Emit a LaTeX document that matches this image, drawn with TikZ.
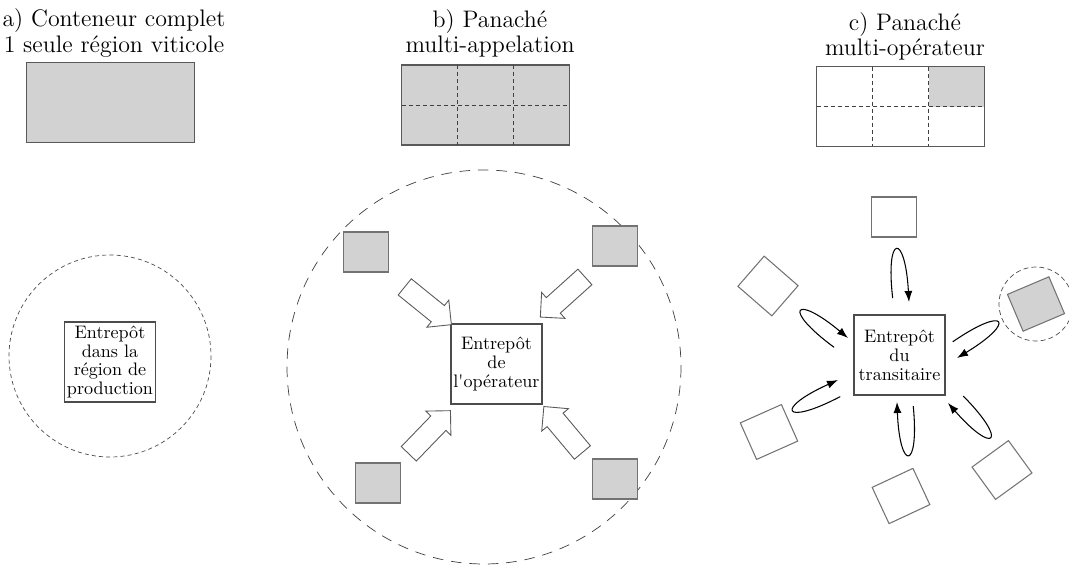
\documentclass[tikz,border=0pt]{standalone}
\usepackage{xcolor}
\usepackage{tikz}
\usetikzlibrary{shapes,arrows.meta,positioning,calc,backgrounds}

\begin{document}
\begin{tikzpicture}[x=0.02cm, y=-0.02cm,
  titre/.style={align=center, inner sep=0pt, font=\fontsize{13.6}{14.3}\selectfont},
  conteneur/.style={draw=black!65, line width=0.6pt, outer sep=0pt, minimum width=3.36cm, minimum height=1.6cm},
  grille/.style={draw=black!75, line width=0.5pt, dash pattern=on 2.3pt off 1.7pt},
  entrepot/.style={draw=black!70, line width=0.6pt, fill=white, align=center, minimum width=1.82cm, minimum height=1.6cm, inner sep=1pt, font=\fontsize{10.3}{10.8}\selectfont},
  cuve/.style={draw=black!55, line width=0.6pt, fill=gray!35, minimum width=0.9cm, minimum height=0.8cm, inner sep=0pt},
  cuvevide/.style={cuve, fill=white},
  fleche/.style={single arrow, draw=black!65, line width=0.5pt, fill=white, minimum height=1.2cm, inner sep=0.2cm, single arrow head extend=0.14cm},
  boucle/.style={-{Latex[length=2.2mm,width=1.6mm]}, line width=0.6pt}
]
\useasboundingbox (0,0) rectangle (1069,568);

% a) Conteneur complet
\node[titre] (ta) at (114,33) {a) Conteneur complet\\1 seule région viticole};
\node[conteneur, fill=gray!35] (ca) at (110.5,102.5) {};
\draw[dash pattern=on 2.3pt off 1.8pt, draw=black!70] (110,356) circle [radius=101];
\node[entrepot] (ea) at (110,362) {Entrepôt\\dans la\\région de\\production};

% b) Panaché multi-appelation
\node[titre] (tb) at (490,33) {b) Panaché\\multi-appelation};
\node[conteneur, fill=gray!35] (cb) at (485.5,105) {};
\draw[grille] ($(cb.north west)!1/3!(cb.north east)$) -- ($(cb.south west)!1/3!(cb.south east)$);
\draw[grille] ($(cb.north west)!2/3!(cb.north east)$) -- ($(cb.south west)!2/3!(cb.south east)$);
\draw[grille] (cb.west) -- (cb.east);

\draw[dash pattern=on 6pt off 4.5pt, draw=black!75] (484,367) circle [radius=197];
\node[entrepot] (eb) at (496.5,364) {Entrepôt\\de\\l\textquotesingle opérateur};
\node[cuve] (b1) at (366,252) {};
\node[cuve] (b2) at (615,246) {};
\node[cuve] (b3) at (378,483) {};
\node[cuve] (b4) at (615,479) {};
\node[fleche, rotate=-39] (f1) at (424,302.5) {};
\node[fleche, rotate=-138] (f2) at (566.5,293.5) {};
\node[fleche, rotate=46] (f3) at (426,436) {};
\node[fleche, rotate=130] (f4) at (566.5,433.5) {};

% c) Panaché multi-opérateur
\node[titre] (tc) at (905,36) {c) Panaché\\multi-opérateur};
\node[conteneur] (cc) at (900.5,106.5) {};
\begin{scope}[on background layer]
  \fill[gray!35] ($(cc.north west)!2/3!(cc.north east)$) rectangle (cc.east);
\end{scope}
\draw[grille] ($(cc.north west)!1/3!(cc.north east)$) -- ($(cc.south west)!1/3!(cc.south east)$);
\draw[grille] ($(cc.north west)!2/3!(cc.north east)$) -- ($(cc.south west)!2/3!(cc.south east)$);
\draw[grille] (cc.west) -- (cc.east);

\node[entrepot] (ec) at (899.5,355) {Entrepôt\\du\\transitaire};
\node[cuvevide] (c1) at (894,217) {};
\node[cuvevide, rotate=-41] (c2) at (768,286) {};
\node[cuve, rotate=23] (c3) at (1036,304) {};
\node[cuvevide, rotate=24] (c4) at (769,432) {};
\node[cuvevide, rotate=25] (c5) at (901,496) {};
\node[cuvevide, rotate=36] (c6) at (1002,470) {};
\draw[dash pattern=on 2.8pt off 1.8pt, draw=black!70] (c3) circle [radius=37];

% aller-retour vers l'entrepot
\coordinate (r1) at (909,302);
\coordinate (r2) at (848,338);
\coordinate (r3) at (957,358);
\coordinate (r4) at (838,380);
\coordinate (r5) at (897,402);
\coordinate (r6) at (948,403);
\foreach \pt/\ang in {r1/-86, r2/-39, r3/-148, r4/25, r5/93, r6/132}
  \draw[boucle, shift={(\pt)}, rotate=\ang] (-5,16) .. controls (-70,19) and (-70,-1) .. (0,0);
\end{tikzpicture}
\end{document}
